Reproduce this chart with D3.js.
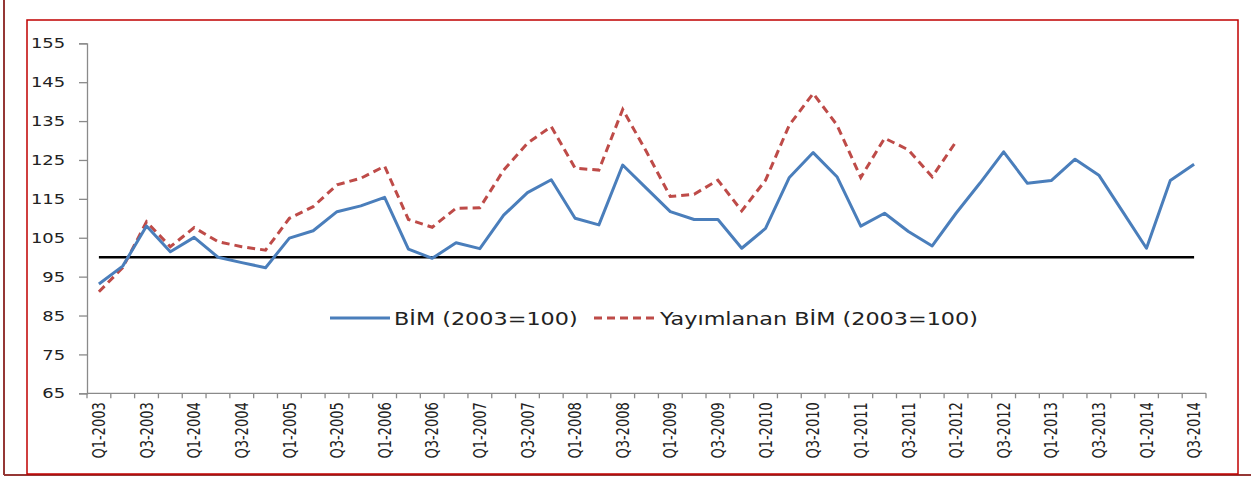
<!DOCTYPE html>
<html>
<head>
<meta charset="utf-8">
<script src="https://d3js.org/d3.v7.min.js"></script>
<style>
  body { margin: 0; background: #fff; }
  svg { display: block; }
</style>
</head>
<body>
<svg id="chart"></svg>
<script>
// quarters Q1-2003 .. Q3-2014
var quarters = [];
for (var yr = 2003; yr <= 2014; yr++) {
  for (var q = 1; q <= 4; q++) {
    if (yr == 2014 && q > 3) break;
    quarters.push("Q" + q + "-" + yr);
  }
}

var bimValues = [93.1, 97.7, 108.0, 101.4, 105.1, 100.0, 98.6, 97.3, 104.9, 106.8,
  111.7, 113.2, 115.4, 102.1, 99.7, 103.7, 102.2, 110.8, 116.6, 119.9,
  110.0, 108.3, 123.7, 117.7, 111.7, 109.7, 109.7, 102.3, 107.4, 120.5,
  126.9, 120.7, 108.0, 111.3, 106.6, 102.9, 111.3, 119.0, 127.1, 119.0,
  119.7, 125.2, 121.1, 111.7, 102.3, 119.7, 123.9];

var yayimlananValues = [91.1, 97.3, 109.1, 102.7, 107.6, 104.0, 102.7, 101.8, 110.0, 113.0,
  118.6, 120.3, 123.4, 109.7, 107.7, 112.6, 112.7, 122.4, 129.3, 133.6,
  122.9, 122.4, 138.0, 127.1, 115.6, 116.2, 119.8, 111.9, 119.8, 134.0,
  142.1, 134.0, 120.5, 130.6, 127.6, 120.7, 129.7];

var yTicks = [65, 75, 85, 95, 105, 115, 125, 135, 145, 155];
var baseValue = 100;

var seriesNames = ["BİM (2003=100)", "Yayımlanan BİM (2003=100)"];

var svgWidth = 1251, svgHeight = 478;
var stretch = 1.24;   // the picture is a bit wide

var svg = d3.select("#chart")
  .attr("width", svgWidth)
  .attr("height", svgHeight);

// frames
svg.append("line")
  .attr("x1", 4).attr("y1", 0).attr("x2", 4).attr("y2", 475)
  .style("stroke", "#953735").style("stroke-width", 2);
svg.append("line")
  .attr("x1", 4).attr("y1", 475).attr("x2", 1251).attr("y2", 475)
  .style("stroke", "#953735").style("stroke-width", 2);
svg.append("rect")
  .attr("x", 27).attr("y", 20).attr("width", 1211).attr("height", 454)
  .style("fill", "none").style("stroke", "#c00000").style("stroke-width", 1.5);

var x = d3.scaleBand()
  .domain(quarters)
  .range([87, 1206])
  .padding(0);

var y = d3.scaleLinear()
  .domain([65, 155])
  .range([393.3, 43.3]);

function cx(d) { return x(d) + x.bandwidth() / 2; }

// y axis
var yAxis = d3.axisLeft(y).tickValues(yTicks).tickSize(8).tickPadding(9);
var gy = svg.append("g")
  .attr("transform", "translate(87,0)")
  .call(yAxis);
gy.select(".domain").style("stroke", "#8a8a8a").style("stroke-width", 1.3);
gy.selectAll(".tick line").style("stroke", "#8a8a8a").style("stroke-width", 1.3);
gy.selectAll(".tick text")
  .style("font", "14.5px 'DejaVu Sans'")
  .style("fill", "#222")
  .attr("transform", function(d) { return "translate(" + (-20 * (stretch - 1)) + ",0) scale(" + stretch + ",1)"; })
  .attr("x", -17 / stretch);

// x axis
var gx = svg.append("g")
  .attr("transform", "translate(0,393.3)");
gx.append("line")
  .attr("x1", 87).attr("x2", 1206)
  .style("stroke", "#8a8a8a").style("stroke-width", 1.3);
gx.selectAll(".bound")
  .data(d3.range(quarters.length + 1))
  .enter().append("line")
  .attr("class", "bound")
  .attr("x1", function(i) { return 87 + i * x.step(); })
  .attr("x2", function(i) { return 87 + i * x.step(); })
  .attr("y1", 0).attr("y2", 5)
  .style("stroke", "#8a8a8a").style("stroke-width", 1.3);
gx.selectAll(".xlab")
  .data(quarters.filter(function(d, i) { return i % 2 == 0; }))
  .enter().append("text")
  .attr("class", "xlab")
  .text(function(d) { return d; })
  .attr("transform", function(d) { return "translate(" + cx(d) + ",9) rotate(-90) scale(1,1.35)"; })
  .attr("text-anchor", "end")
  .attr("dy", "0.35em")
  .style("font", "13px 'DejaVu Sans'")
  .style("fill", "#222");

// base line at 100
svg.append("line")
  .attr("x1", cx(quarters[0]))
  .attr("x2", cx(quarters[quarters.length - 1]))
  .attr("y1", y(baseValue)).attr("y2", y(baseValue))
  .style("stroke", "#000").style("stroke-width", 2.5);

var line = d3.line()
  .x(function(d, i) { return cx(quarters[i]); })
  .y(function(d) { return y(d); });

svg.append("path")
  .datum(yayimlananValues)
  .attr("d", line)
  .style("fill", "none")
  .style("stroke", "#be4b48")
  .style("stroke-width", 3)
  .style("stroke-dasharray", "8,5");

svg.append("path")
  .datum(bimValues)
  .attr("d", line)
  .style("fill", "none")
  .style("stroke", "#4a7ebb")
  .style("stroke-width", 3)
  .style("stroke-linejoin", "round");

// legend
var legY = 318;
svg.append("line")
  .attr("x1", 330).attr("x2", 390).attr("y1", legY).attr("y2", legY)
  .style("stroke", "#4a7ebb").style("stroke-width", 3);
svg.append("text").text(seriesNames[0])
  .attr("transform", "translate(394," + (legY + 6.5) + ") scale(" + stretch + ",1)")
  .style("font", "18px 'DejaVu Sans'")
  .style("fill", "#222");
svg.append("line")
  .attr("x1", 594).attr("x2", 657).attr("y1", legY).attr("y2", legY)
  .style("stroke", "#be4b48").style("stroke-width", 3)
  .style("stroke-dasharray", "8,5");
svg.append("text").text(seriesNames[1])
  .attr("transform", "translate(660," + (legY + 6.5) + ") scale(" + stretch + ",1)")
  .style("font", "18px 'DejaVu Sans'")
  .style("fill", "#222");
</script>
</body>
</html>
